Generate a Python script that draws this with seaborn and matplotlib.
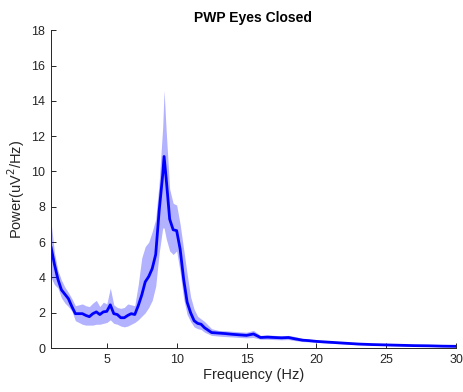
import matplotlib
matplotlib.use("Agg")
import matplotlib.pyplot as plt
import seaborn as sns
import pandas as pd

freq = [1.0, 1.25, 1.5, 1.75, 2.0, 2.25, 2.5, 2.75, 3.0, 3.25, 3.5, 3.75, 4.0, 4.25, 4.5, 4.75,
        5.0, 5.25, 5.5, 5.75, 6.0, 6.25, 6.5, 6.75, 7.0, 7.25, 7.5, 7.75, 8.0, 8.25, 8.5, 8.75,
        9.0, 9.1, 9.25, 9.5, 9.75, 10.0, 10.25, 10.5, 10.75, 11.0, 11.25, 11.5, 11.75, 12.0,
        12.5, 13.0, 13.5, 14.0, 14.5, 15.0, 15.5, 16.0, 16.5, 17.0, 17.5, 18.0, 18.5, 19.0,
        19.5, 20.0, 21.0, 22.0, 23.0, 24.0, 25.0, 26.0, 27.0, 28.0, 29.0, 30.0]
power_mean = [5.75, 4.75, 3.9, 3.3, 3.05, 2.8, 2.35, 1.95, 1.95, 1.95, 1.85, 1.78, 1.95, 2.05, 1.9, 2.05,
              2.08, 2.45, 1.95, 1.9, 1.72, 1.72, 1.85, 1.95, 1.9, 2.4, 3.0, 3.75, 4.05, 4.5, 5.3, 7.8,
              9.8, 10.85, 9.6, 7.3, 6.7, 6.65, 5.6, 3.9, 2.6, 2.0, 1.55, 1.4, 1.35, 1.15,
              0.88, 0.85, 0.82, 0.78, 0.75, 0.72, 0.8, 0.6, 0.62, 0.6, 0.58, 0.6, 0.52, 0.45,
              0.42, 0.38, 0.33, 0.28, 0.23, 0.2, 0.18, 0.16, 0.14, 0.13, 0.11, 0.1]
power_lower = [4.0, 3.6, 3.4, 2.85, 2.55, 2.35, 2.1, 1.55, 1.45, 1.35, 1.3, 1.3, 1.3, 1.35, 1.35, 1.4,
               1.45, 1.6, 1.4, 1.35, 1.25, 1.2, 1.25, 1.35, 1.45, 1.6, 1.8, 2.0, 2.3, 2.7, 3.5, 5.4,
               6.8, 6.8, 6.2, 5.5, 5.3, 5.5, 4.3, 2.8, 1.9, 1.5, 1.2, 1.1, 1.05, 0.9,
               0.72, 0.68, 0.65, 0.63, 0.6, 0.58, 0.6, 0.5, 0.5, 0.48, 0.47, 0.48, 0.42, 0.37,
               0.35, 0.32, 0.27, 0.23, 0.19, 0.16, 0.14, 0.12, 0.11, 0.1, 0.08, 0.07]
power_upper = [7.2, 5.4, 4.4, 3.85, 3.45, 3.15, 2.8, 2.4, 2.45, 2.5, 2.4, 2.35, 2.55, 2.7, 2.35, 2.6,
               2.5, 3.4, 2.45, 2.3, 2.25, 2.3, 2.5, 2.45, 2.4, 3.6, 5.1, 5.75, 6.0, 6.6, 7.3, 9.4,
               12.5, 14.6, 12.3, 9.0, 8.2, 8.1, 7.0, 5.6, 4.2, 2.9, 2.2, 1.8, 1.65, 1.5,
               1.1, 1.0, 0.98, 0.95, 0.92, 0.9, 1.0, 0.72, 0.75, 0.72, 0.7, 0.72, 0.65, 0.55,
               0.5, 0.45, 0.39, 0.33, 0.28, 0.24, 0.22, 0.19, 0.17, 0.16, 0.14, 0.13]
x_ticks = [5, 10, 15, 20, 25, 30]
y_ticks = [0, 2, 4, 6, 8, 10, 12, 14, 16, 18]

df = pd.DataFrame({"freq": freq, "mean": power_mean, "lo": power_lower, "hi": power_upper})

sns.set_style("white")
plt.rcParams['font.family'] = ['Liberation Sans', 'DejaVu Sans']

fig = plt.figure(figsize=(4.63, 3.92), dpi=100)
ax = fig.add_axes([0.110, 0.112, 0.875, 0.811])

ax.fill_between(df["freq"], df["lo"], df["hi"], color=(0.0, 0.0, 1.0), alpha=0.3, linewidth=0)
sns.lineplot(data=df, x="freq", y="mean", ax=ax, color=(0.0, 0.0, 1.0), linewidth=2.0)

ax.set_xlim(1, 30)
ax.set_ylim(0, 18)
ax.set_xticks(x_ticks)
ax.set_yticks(y_ticks)
ax.tick_params(bottom=True, left=True, top=False, right=False, direction="in", length=3.5,
               width=0.7, labelsize=9, colors="#262626", pad=4)
for s in ["top", "right"]:
    ax.spines[s].set_visible(False)
for s in ["left", "bottom"]:
    ax.spines[s].set_color("#262626")
    ax.spines[s].set_linewidth(0.7)

ax.set_xlabel("Frequency (Hz)", fontsize=10.5, color="#262626", labelpad=2)
ax.set_ylabel("Power(uV$^2$/Hz)", fontsize=10.5, color="#262626", labelpad=3)
ax.set_title("PWP Eyes Closed", fontsize=10, fontweight="bold", color="black", pad=6)

fig.savefig("out.png", dpi=100)
